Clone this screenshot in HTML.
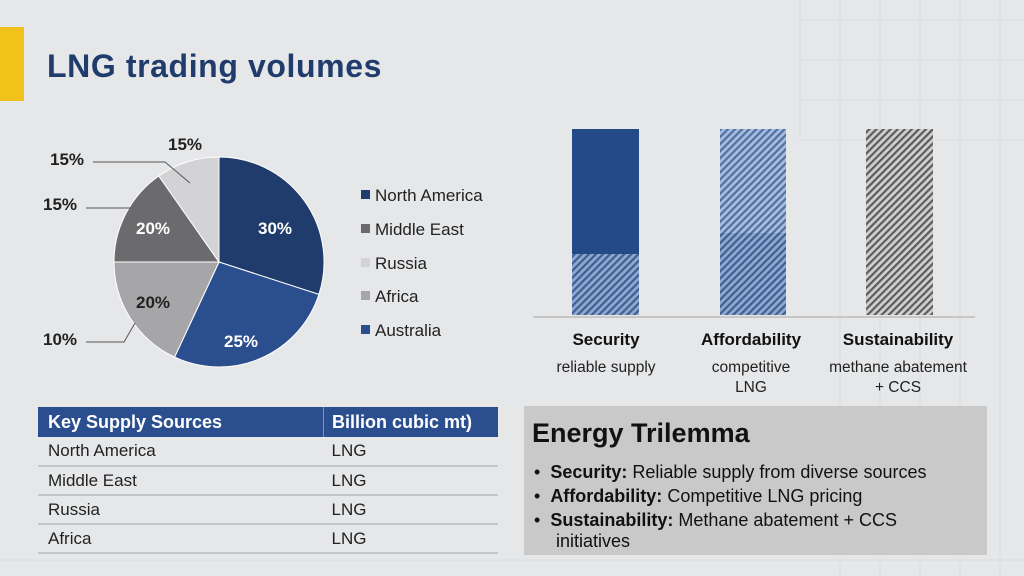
<!DOCTYPE html>
<html><head><meta charset="utf-8"><style>
body{margin:0;width:1024px;height:576px;overflow:hidden;background:#e6e7e9;font-family:"Liberation Sans",sans-serif;position:relative}
.abs{position:absolute}
table{border-collapse:collapse}
</style></head><body>
<svg class="abs" style="left:0;top:0" width="1024" height="576">
<defs>
<pattern id="hb" width="5" height="5" patternUnits="userSpaceOnUse" patternTransform="rotate(45)"><rect width="5" height="5" fill="#8fa8cc"/><rect width="2.2" height="5" fill="#3e5f95"/></pattern>
<pattern id="hb2" width="5" height="5" patternUnits="userSpaceOnUse" patternTransform="rotate(45)"><rect width="5" height="5" fill="#a9bcd9"/><rect width="2.2" height="5" fill="#4d70a8"/></pattern>
<pattern id="hg" width="5" height="5" patternUnits="userSpaceOnUse" patternTransform="rotate(45)"><rect width="5" height="5" fill="#cfcfcf"/><rect width="2.2" height="5" fill="#5c5c5c"/></pattern>
</defs>
<g stroke="#dcdde0" stroke-width="1">
<path d="M840 0V576M880 0V576M920 0V576M960 0V576M1000 0V576M800 0V140"/>
<path d="M800 20H1024M800 60H1024M800 100H1024M800 140H1024M0 560H1024"/>
</g>
<rect x="0" y="27" width="24" height="74" fill="#f3c21a"/>
<g stroke="#fff" stroke-width="1">
<path d="M219 262L219 157A105 105 0 0 1 318.9 294.4Z" fill="#1f3c6c"/>
<path d="M219 262L318.9 294.4A105 105 0 0 1 174.6 357.1Z" fill="#2b4f8e"/>
<path d="M219 262L174.6 357.1A105 105 0 0 1 114 262Z" fill="#a6a6a8"/>
<path d="M219 262L114 262A105 105 0 0 1 158.8 176Z" fill="#6b6b6d"/>
<path d="M219 262L158.8 176A105 105 0 0 1 219 157Z" fill="#d3d3d5"/>
</g>
<g stroke="#555" stroke-width="1" fill="none">
<path d="M93 162H165L190 183"/><path d="M86 208H130"/><path d="M86 342H124L135 323"/>
</g>
<g font-size="17" font-weight="bold" fill="#222">
<text x="168" y="150">15%</text><text x="50" y="165">15%</text><text x="43" y="210">15%</text><text x="43" y="345">10%</text>
<text x="136" y="234" fill="#fff">20%</text><text x="258" y="234" fill="#fff">30%</text>
<text x="136" y="308">20%</text><text x="224" y="347" fill="#fff">25%</text>
</g>
<g font-size="17" fill="#222">
<rect x="361" y="190" width="9" height="9" fill="#1f3c6c"/><text x="375" y="201">North America</text>
<rect x="361" y="224" width="9" height="9" fill="#6b6b6d"/><text x="375" y="235">Middle East</text>
<rect x="361" y="258" width="9" height="9" fill="#d3d3d5"/><text x="375" y="269">Russia</text>
<rect x="361" y="291" width="9" height="9" fill="#a6a6a8"/><text x="375" y="302">Africa</text>
<rect x="361" y="325" width="9" height="9" fill="#2b4f8e"/><text x="375" y="336">Australia</text>
</g>
<rect x="572" y="129" width="67" height="125" fill="#244a88"/>
<rect x="572" y="254" width="67" height="61" fill="url(#hb)"/>
<rect x="720" y="129" width="66" height="104" fill="url(#hb2)"/>
<rect x="720" y="233" width="66" height="82" fill="url(#hb)"/>
<rect x="866" y="129" width="67" height="186" fill="url(#hg)"/>
<path d="M533 317H975" stroke="#bbb" stroke-width="1.5"/>
<g font-size="17" text-anchor="middle" fill="#111">
<text x="606" y="345" font-weight="bold">Security</text>
<text x="751" y="345" font-weight="bold">Affordability</text>
<text x="898" y="345" font-weight="bold">Sustainability</text>
</g>
<g font-size="15.5" text-anchor="middle" fill="#222">
<text x="606" y="372">reliable supply</text>
<text x="751" y="372">competitive</text><text x="751" y="392">LNG</text>
<text x="898" y="372">methane abatement</text><text x="898" y="392">+ CCS</text>
</g>
</svg>
<div class="abs" style="left:47px;top:48px;font-size:32px;font-weight:bold;color:#1f3c6c;letter-spacing:0.6px">LNG trading volumes</div>
<table class="abs" style="left:38px;top:407px;width:460px;font-size:17px;color:#222">
<tr style="background:#2b4f8e;color:#fff;font-weight:bold;height:30px;font-size:18px"><td style="padding-left:10px;width:274px;border-right:1px solid #7d93b8">Key Supply Sources</td><td style="padding-left:8px">Billion cubic mt)</td></tr>
<tr style="height:29px;border-bottom:2px solid #c4c5c8"><td style="padding-left:10px">North America</td><td style="padding-left:8px">LNG</td></tr>
<tr style="height:29px;border-bottom:2px solid #c4c5c8"><td style="padding-left:10px">Middle East</td><td style="padding-left:8px">LNG</td></tr>
<tr style="height:29px;border-bottom:2px solid #c4c5c8"><td style="padding-left:10px">Russia</td><td style="padding-left:8px">LNG</td></tr>
<tr style="height:29px;border-bottom:2px solid #c4c5c8"><td style="padding-left:10px">Africa</td><td style="padding-left:8px">LNG</td></tr>
</table>
<div class="abs" style="left:524px;top:406px;width:463px;height:149px;background:#c9c9ca;color:#111">
<div style="position:absolute;left:8px;top:12px;font-size:27px;font-weight:bold">Energy Trilemma</div>
<div style="position:absolute;left:10px;top:54px;font-size:18px;line-height:24px">
<div>•&nbsp;&nbsp;<b>Security:</b> Reliable supply from diverse sources</div>
<div>•&nbsp;&nbsp;<b>Affordability:</b> Competitive LNG pricing</div>
<div>•&nbsp;&nbsp;<b>Sustainability:</b> Methane abatement + CCS</div>
<div style="padding-left:22px;line-height:18px">initiatives</div>
</div></div>
</body></html>
